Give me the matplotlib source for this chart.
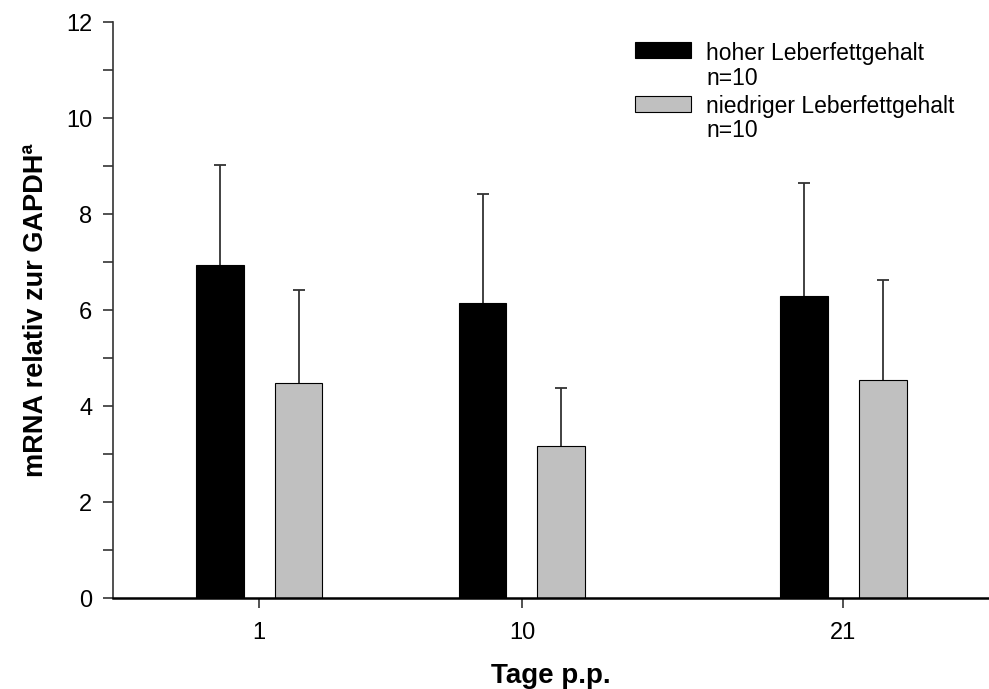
import matplotlib.pyplot as plt
from matplotlib.patches import Rectangle

plt.rcParams['font.family'] = ['Liberation Sans', 'DejaVu Sans']

# Tage p.p. (Zeitpunkte)
days = [1, 10, 21]
# Mittelwerte und Standardabweichung (nur nach oben)
hoch_mean = [6.93, 6.15, 6.29]
hoch_sd = [2.10, 2.27, 2.35]
niedrig_mean = [4.47, 3.17, 4.55]
niedrig_sd = [1.94, 1.20, 2.08]
labels = ['hoher Leberfettgehalt\nn=10', 'niedriger Leberfettgehalt\nn=10']

fig = plt.figure(figsize=(9.89, 6.89), dpi=100)
ax = fig.add_axes([0.1143, 0.132, 0.886, 0.836])

w = 1.64
off = 1.35
xb = [d - off for d in days]
xg = [d + off for d in days]

ax.bar(xb, hoch_mean, width=w, color='black', edgecolor='black', linewidth=0.8, zorder=2)
ax.bar(xg, niedrig_mean, width=w, color='#c0c0c0', edgecolor='black', linewidth=0.8, zorder=2)

# Fehlerbalken nur nach oben
for xs, m, sd in [(xb, hoch_mean, hoch_sd), (xg, niedrig_mean, niedrig_sd)]:
    tops = [a + b for a, b in zip(m, sd)]
    ax.vlines(xs, m, tops, color='#333333', linewidth=1.3, zorder=1)
    ax.plot(xs, tops, ls='none', marker='_', markersize=9, markeredgewidth=1.3,
            color='#333333', zorder=1)

ax.set_xlim(-4, 26)
ax.set_ylim(0, 12)
ax.set_xticks(days)
ax.set_xticklabels([str(d) for d in days])
ax.set_yticks(range(0, 13, 2))
ax.set_yticks(range(1, 12, 2), minor=True)

for s in ['top', 'right']:
    ax.spines[s].set_visible(False)
ax.spines['left'].set_color('#333333')
ax.spines['left'].set_linewidth(1.2)
ax.spines['bottom'].set_color('black')
ax.spines['bottom'].set_linewidth(1.8)
ax.tick_params(axis='both', which='major', direction='out', length=7, width=1.2,
               color='#333333', labelsize=17, pad=8)
ax.tick_params(axis='y', which='minor', direction='out', length=7, width=1.2, color='#333333')
ax.tick_params(axis='x', pad=10)

ax.set_xlabel('Tage p.p.', fontsize=20, fontweight='bold', labelpad=14)
ax.set_ylabel('mRNA relativ zur GAPDHª', fontsize=19.5, fontweight='bold', labelpad=12)

# Legende (manuell, Kasten an der ersten Zeile ausgerichtet)
colors = ['black', '#c0c0c0']
ys = [0.952, 0.857]
offs = [0.013, 0.017]
for lab, c, y, o in zip(labels, colors, ys, offs):
    ax.add_patch(Rectangle((0.596, y - 0.014), 0.064, 0.028, transform=ax.transAxes,
                           facecolor=c, edgecolor='black', linewidth=0.8, clip_on=False))
    ax.text(0.677, y + o, lab, transform=ax.transAxes, fontsize=16.5,
            va='top', ha='left', linespacing=1.1)

fig.savefig('out.png', dpi=100)
